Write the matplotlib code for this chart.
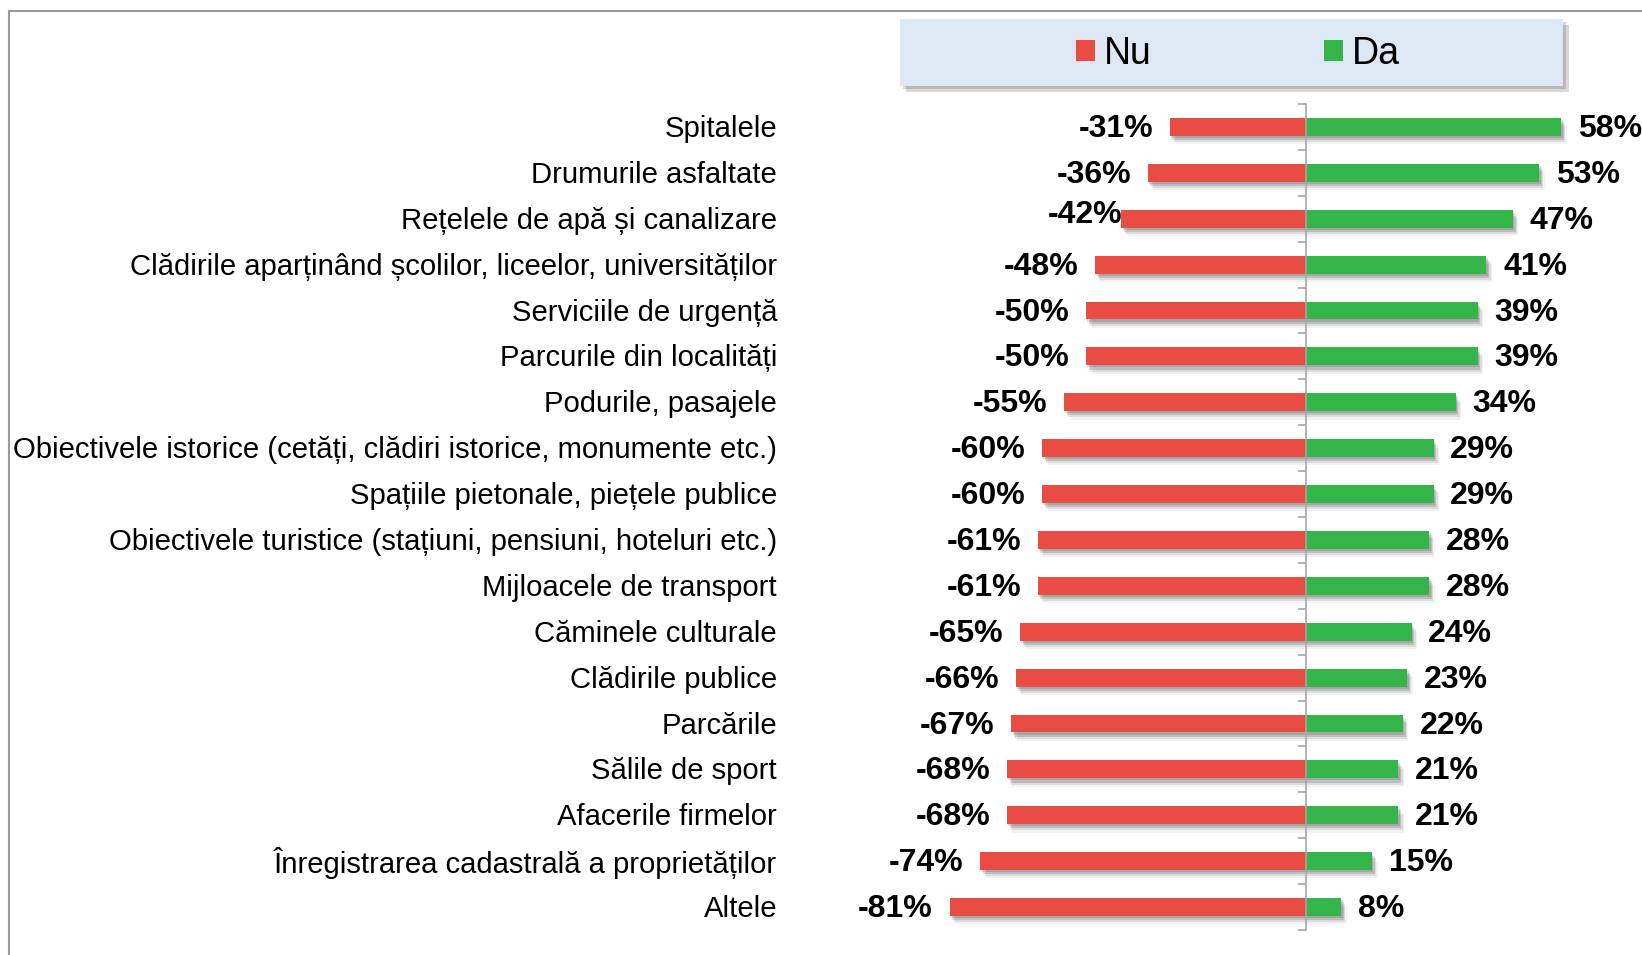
import matplotlib
matplotlib.use("Agg")
import matplotlib.pyplot as plt
import matplotlib.patheffects as pe
from matplotlib.patches import Rectangle, FancyBboxPatch
from matplotlib.transforms import blended_transform_factory

plt.rcParams["font.family"] = ["Liberation Sans", "DejaVu Sans"]

categories = [
    "Spitalele",
    "Drumurile asfaltate",
    "Rețelele de apă și canalizare",
    "Clădirile aparținând școlilor, liceelor, universităților",
    "Serviciile de urgență",
    "Parcurile din localități",
    "Podurile, pasajele",
    "Obiectivele istorice (cetăți, clădiri istorice, monumente etc.)",
    "Spațiile pietonale, piețele publice",
    "Obiectivele turistice (stațiuni, pensiuni, hoteluri etc.)",
    "Mijloacele de transport",
    "Căminele culturale",
    "Clădirile publice",
    "Parcările",
    "Sălile de sport",
    "Afacerile firmelor",
    "Înregistrarea cadastrală a proprietăților",
    "Altele",
]
nu_vals = [-31, -36, -42, -48, -50, -50, -55, -60, -60, -61, -61, -65, -66, -67, -68, -68, -74, -81]
da_vals = [58, 53, 47, 41, 39, 39, 34, 29, 29, 28, 28, 24, 23, 22, 21, 21, 15, 8]
series_names = ["Nu", "Da"]

RED = "#e84c42"
GREEN = "#33b54a"
AXIS_GREY = "#a6a6a6"

W, H = 1642, 955
fig = plt.figure(figsize=(W / 100, H / 100), dpi=100)

# outer frame (left + top edges visible)
frame = Rectangle((9 / W, -0.05), 1.2, 1 - 11 / H + 0.05, transform=fig.transFigure,
                  fill=False, edgecolor="#9a9a9a", lw=1.5)
fig.patches.append(frame)

ax = fig.add_axes([866 / W, 1 - 930 / H, 770 / W, 826 / H])
ax.set_xlim(-100, 75)
ax.set_ylim(len(categories) - 0.5, -0.5)
ax.patch.set_visible(False)

shadow = [pe.SimplePatchShadow(offset=(1, -1.5), shadow_rgbFace="k", alpha=0.13),
          pe.SimplePatchShadow(offset=(2, -3), shadow_rgbFace="k", alpha=0.13),
          pe.SimplePatchShadow(offset=(3, -4.5), shadow_rgbFace="k", alpha=0.09),
          pe.SimplePatchShadow(offset=(4, -6), shadow_rgbFace="k", alpha=0.05),
          pe.Normal()]

y = list(range(len(categories)))
b_nu = ax.barh(y, nu_vals, height=0.39, color=RED, label=series_names[0], zorder=2)
b_da = ax.barh(y, da_vals, height=0.39, color=GREEN, label=series_names[1], zorder=2)
for bar in list(b_nu) + list(b_da):
    bar.set_path_effects(shadow)

# value labels
for i, v in enumerate(nu_vals):
    dx, dy = -12, -1.5
    if i == 2:  # this label sits tighter and a bit higher in the source chart
        dx, dy = 1, 2.5
    ax.annotate(f"{v}%", (v, i), xytext=(dx, dy), textcoords="offset points",
                ha="right", va="center", fontsize=23, fontweight="bold")
for i, v in enumerate(da_vals):
    ax.annotate(f"{v}%", (v, i), xytext=(12, -1.5), textcoords="offset points",
                ha="left", va="center", fontsize=23, fontweight="bold")

# category labels
trans = blended_transform_factory(ax.transAxes, ax.transData)
for i, name in enumerate(categories):
    ax.annotate(name, ((777 - 866) / 770, i), xycoords=trans, xytext=(0, -1.5),
                textcoords="offset points", ha="right", va="center", fontsize=21.1)

# zero axis with ticks between categories
for s in ["top", "right", "bottom"]:
    ax.spines[s].set_visible(False)
ax.spines["left"].set_position(("data", 0))
ax.spines["left"].set_color(AXIS_GREY)
ax.spines["left"].set_linewidth(1.2)
ax.spines["left"].set_zorder(3)
ax.set_xticks([])
ax.set_yticks([])
ax.set_yticks([k - 0.5 for k in range(len(categories) + 1)], minor=True)
ax.tick_params(axis="y", which="minor", direction="out", length=6, width=1.2,
               color=AXIS_GREY, labelleft=False)

# legend box
box = FancyBboxPatch((900 / W, 1 - 86 / H), 663 / W, 67 / H, boxstyle="square,pad=0",
                     transform=fig.transFigure, facecolor="#dde8f4", edgecolor="none",
                     path_effects=[pe.SimplePatchShadow(offset=(2, -2), shadow_rgbFace="k", alpha=0.15),
                                   pe.SimplePatchShadow(offset=(4, -4), shadow_rgbFace="k", alpha=0.15),
                                   pe.Normal()])
fig.patches.append(box)
leg = fig.legend(handles=[b_nu, b_da], labels=series_names, loc="center",
                 bbox_to_anchor=(1238 / W, 1 - 54 / H), ncol=2, frameon=False,
                 fontsize=27, handlelength=0.5, handleheight=0.5, handletextpad=0.25,
                 columnspacing=4.6)
for h in leg.legend_handles:
    h.set_path_effects([])

fig.savefig("out.png", dpi=100)
